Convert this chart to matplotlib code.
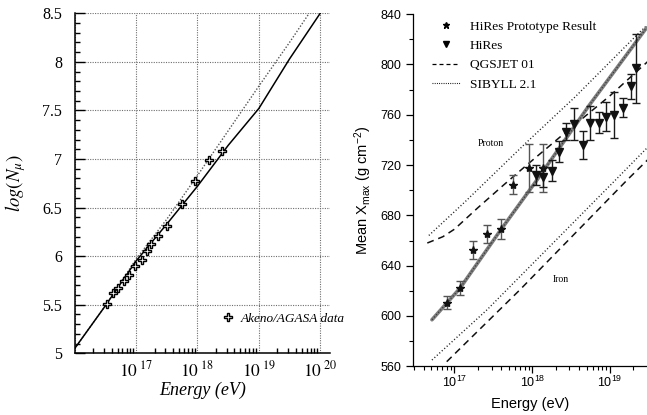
import numpy as np
import matplotlib
matplotlib.use('Agg')
import matplotlib.pyplot as plt
from matplotlib.ticker import FixedLocator, FixedFormatter, NullFormatter, MultipleLocator
from matplotlib.lines import Line2D

plt.rcParams['mathtext.fontset'] = 'custom'
plt.rcParams['mathtext.rm'] = 'Liberation Sans'
plt.rcParams['mathtext.it'] = 'Liberation Sans:italic'
plt.rcParams['mathtext.bf'] = 'Liberation Sans:bold'

# ---------------- Left panel data: log(N_mu) vs energy ----------------
model_logE = [16.0, 16.5, 17.0, 17.5, 18.0, 18.5, 19.0, 19.5, 20.0]
model_nmu = [5.05, 5.49, 5.95, 6.33, 6.72, 7.14, 7.52, 8.03, 8.5]
alt_logE = [16.0, 16.5, 17.0, 17.5, 18.0, 18.5, 19.0, 19.5, 19.82]
alt_nmu = [5.05, 5.49, 5.97, 6.38, 6.83, 7.29, 7.75, 8.2, 8.5]
agasa_logE = [16.53, 16.63, 16.71, 16.81, 16.89, 16.98, 17.09, 17.17, 17.25,
              17.35, 17.51, 17.74, 17.96, 18.19, 18.40]
agasa_nmu = [5.51, 5.62, 5.67, 5.74, 5.81, 5.90, 5.96, 6.05, 6.12,
             6.21, 6.31, 6.54, 6.77, 6.99, 7.08]
left_xticks = [16, 17, 18, 19, 20]
left_xlabels = ['', '17', '18', '19', '20']
left_yticks = [5, 5.5, 6, 6.5, 7, 7.5, 8, 8.5]
left_ylabels = ['5', '5.5', '6', '6.5', '7', '7.5', '8', '8.5']

# ---------------- Right panel data: mean Xmax vs energy ----------------
proto_logE = [16.90, 17.07, 17.24, 17.42, 17.60, 17.75, 17.96, 18.14]
proto_xmax = [610.5, 622.0, 652.4, 665.0, 669.0, 704.5, 717.4, 717.4]
proto_err = [5.0, 5.5, 7.4, 7.0, 8.0, 7.7, 19.0, 19.0]

hires_logE = [18.05, 18.14, 18.26, 18.35, 18.44, 18.54, 18.65, 18.74, 18.86,
              18.95, 19.05, 19.17, 19.27, 19.34]
hires_xmax = [712.0, 710.7, 715.5, 730.6, 746.5, 752.5, 736.0, 753.6, 753.6,
              758.4, 759.8, 765.5, 782.5, 797.0]
hires_err = [8.0, 8.0, 8.5, 8.5, 7.0, 13.0, 11.0, 13.5, 8.5,
             11.5, 18.0, 7.5, 10.0, 27.5]

fit_logE = [16.71, 17.07, 17.59, 18.06, 18.74, 19.47]
fit_xmax = [597.0, 622.0, 668.0, 708.0, 768.0, 829.0]

qgs_p_logE = [16.65, 16.85, 17.0, 17.3, 17.63, 17.93, 18.44, 19.0, 19.5]
qgs_p_xmax = [658.0, 663.0, 669.0, 686.0, 704.0, 720.0, 746.5, 775.0, 803.0]
sib_p_logE = [16.67, 17.14, 17.91, 18.55, 19.39, 19.6]
sib_p_xmax = [664.0, 691.0, 737.0, 774.0, 826.0, 838.0]
qgs_fe_logE = [16.90, 17.84, 19.22, 19.5]
qgs_fe_xmax = [563.7, 620.7, 708.0, 725.0]
sib_fe_logE = [16.71, 17.42, 19.07, 19.5]
sib_fe_xmax = [565.0, 605.0, 708.0, 735.0]

right_xticks = [17, 18, 19]
right_yticks = [560, 600, 640, 680, 720, 760, 800, 840]


def p10(v):
    return np.power(10.0, np.asarray(v, dtype=float))


def minor_decades(lo, hi):
    out = []
    for d in range(lo, hi):
        for m in range(2, 10):
            out.append(m * 10.0 ** d)
    return out


fig = plt.figure(figsize=(6.47, 4.15), dpi=100)
fig.patch.set_facecolor('white')

# ======================= LEFT =======================
axL = fig.add_axes([0.1155, 0.1487, 0.3946, 0.8193])
axL.set_xscale('log')
axL.set_xlim(1e16, 10 ** 20.16)
axL.set_ylim(5, 8.5)
for s in ['top', 'right']:
    axL.spines[s].set_visible(False)
axL.spines['left'].set_linewidth(1.1)
axL.spines['bottom'].set_linewidth(1.1)

axL.xaxis.set_major_locator(FixedLocator(list(p10(left_xticks))))
axL.xaxis.set_major_formatter(FixedFormatter(
    [r'$\mathit{10}^{\ \mathit{%s}}$' % l if l else '' for l in left_xlabels]))
axL.xaxis.set_minor_locator(FixedLocator(minor_decades(16, 20)))
axL.xaxis.set_minor_formatter(NullFormatter())
axL.yaxis.set_major_locator(FixedLocator(left_yticks))
axL.yaxis.set_major_formatter(FixedFormatter(left_ylabels))
axL.yaxis.set_minor_locator(MultipleLocator(0.1))
axL.tick_params(axis='both', which='major', direction='in', length=7, width=1.0)
axL.tick_params(axis='both', which='minor', direction='in', length=3.5, width=1.0)
axL.tick_params(axis='x', which='major', length=0, pad=5)
axL.tick_params(axis='y', which='major', pad=9)
for lab in axL.get_yticklabels():
    lab.set_fontfamily('Liberation Serif')
    lab.set_fontsize(11.5)
for t in axL.xaxis.get_major_ticks():
    t.label1.set_math_fontfamily('stix')
    t.label1.set_fontsize(12.5)

axL.grid(True, which='major', linestyle=(0, (1, 1.2)), color='#6e6e6e', linewidth=0.8)
axL.set_axisbelow(True)

axL.plot(p10(alt_logE), alt_nmu, linestyle=(0, (1, 1.3)), color='#555555', linewidth=1.0)
axL.plot(p10(model_logE), model_nmu, '-', color='black', linewidth=1.1)
axL.plot(p10(agasa_logE), agasa_nmu, linestyle='none', marker='P', markersize=5.6,
         markerfacecolor='white', markeredgecolor='black', markeredgewidth=1.0)

axL.set_xlabel('Energy (eV)', fontfamily='Liberation Serif', fontstyle='italic',
               fontsize=13, labelpad=1)
axL.set_ylabel(r'$log(N_{\mu})$', fontsize=13.5, labelpad=10, math_fontfamily='stix')

axL.legend([Line2D([], [], linestyle='none', marker='P', markersize=5.6,
                   markerfacecolor='white', markeredgecolor='black',
                   markeredgewidth=1.0)],
           ['Akeno/AGASA data'], loc='center left', bbox_to_anchor=(0.574, 0.101),
           frameon=False, handlelength=1.0, handletextpad=0.5, borderpad=0,
           borderaxespad=0, prop={'family': 'Liberation Serif', 'style': 'italic',
                                  'size': 9.5})

# ======================= RIGHT =======================
axR = fig.add_axes([0.6388, 0.1173, 0.3612, 0.8489])
axR.set_xscale('log')
axR.set_xlim(10 ** 16.47, 10 ** 19.477)
axR.set_ylim(560, 840)
for s in ['top', 'right']:
    axR.spines[s].set_visible(False)
axR.spines['left'].set_linewidth(0.9)
axR.spines['bottom'].set_linewidth(0.9)

axR.xaxis.set_major_locator(FixedLocator(list(p10(right_xticks))))
axR.xaxis.set_major_formatter(FixedFormatter([r'$10^{%d}$' % v for v in right_xticks]))
axR.xaxis.set_minor_locator(FixedLocator(minor_decades(16, 20)))
axR.xaxis.set_minor_formatter(NullFormatter())
axR.yaxis.set_major_locator(FixedLocator(right_yticks))
axR.yaxis.set_minor_locator(MultipleLocator(20))
axR.tick_params(axis='both', which='major', direction='out', length=5, width=0.9,
                labelsize=9)
axR.tick_params(axis='both', which='minor', direction='out', length=3, width=0.8)
axR.tick_params(axis='x', which='major', labelsize=9, pad=1)
for lab in axR.get_yticklabels():
    lab.set_fontfamily('Liberation Sans')

dash = (0, (4.5, 3.2))
dot = (0, (0.8, 1.6))
axR.plot(p10(sib_p_logE), sib_p_xmax, linestyle=dot, color='#222222', linewidth=1.0)
axR.plot(p10(qgs_p_logE), qgs_p_xmax, linestyle=dash, color='#111111', linewidth=1.1)
axR.plot(p10(sib_fe_logE), sib_fe_xmax, linestyle=dot, color='#222222', linewidth=1.0)
axR.plot(p10(qgs_fe_logE), qgs_fe_xmax, linestyle=dash, color='#111111', linewidth=1.1)
axR.plot(p10(fit_logE), fit_xmax, '-', color='#7e7e7e', linewidth=2.6, solid_capstyle='round')
axR.plot(p10(fit_logE), fit_xmax, linestyle=(0, (1, 1.5)), color='#3a3a3a', linewidth=0.9)

axR.errorbar(p10(proto_logE), proto_xmax, yerr=proto_err, fmt='none',
             ecolor='#555555', elinewidth=1.0, capsize=3.0, capthick=1.0)
axR.plot(p10(proto_logE), proto_xmax, linestyle='none', marker='*', markersize=6,
         color='#111111')
axR.errorbar(p10(hires_logE), hires_xmax, yerr=hires_err, fmt='none',
             ecolor='#1a1a1a', elinewidth=1.0, capsize=3.0, capthick=1.0)
axR.plot(p10(hires_logE), hires_xmax, linestyle='none', marker='v', markersize=5.5,
         color='#111111')

axR.text(10 ** 17.47, 736.7, 'Proton', fontfamily='Liberation Serif', fontsize=7,
         ha='center', va='center')
axR.text(10 ** 18.37, 629.2, 'Iron', fontfamily='Liberation Serif', fontsize=7,
         ha='center', va='center')

axR.set_xlabel('Energy (eV)', fontfamily='Liberation Sans', fontsize=10.5, labelpad=5)
axR.set_ylabel(r'Mean X$_{\rm max}$ (g cm$^{-2}$)', fontfamily='Liberation Sans',
               fontsize=10.5, labelpad=5)

handles = [Line2D([], [], linestyle='none', marker='*', markersize=5, color='black'),
           Line2D([], [], linestyle='none', marker='v', markersize=5, color='black'),
           Line2D([], [], linestyle=(0, (3.2, 2.4)), color='black', linewidth=0.9),
           Line2D([], [], linestyle=(0, (0.8, 1.2)), color='black', linewidth=0.8)]
labels = ['HiRes Prototype Result', 'HiRes', 'QGSJET 01', 'SIBYLL 2.1']
axR.legend(handles, labels, loc='upper left', bbox_to_anchor=(0.0787, 0.982),
           frameon=False, handlelength=2.1, handletextpad=0.75, borderpad=0,
           borderaxespad=0, labelspacing=0.52,
           prop={'family': 'Liberation Serif', 'size': 9.6})

fig.savefig('out.png', dpi=100, facecolor='white')
